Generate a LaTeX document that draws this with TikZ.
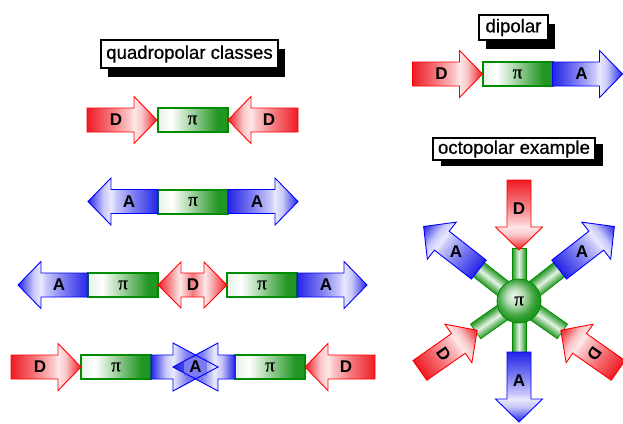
\documentclass[tikz,border=0pt]{standalone}
\usepackage{fontspec}
\setmainfont{Liberation Sans}
\newfontfamily\piface{Liberation Serif}[FakeBold=0.6]
\newfontfamily\capface{Liberation Sans}[FakeBold=0.7]
\usetikzlibrary{shadows}

% palette
\definecolor{Rd}{RGB}{238,28,36}
\definecolor{RdE}{RGB}{255,0,0}
\definecolor{Bl}{RGB}{36,36,232}
\definecolor{BlE}{RGB}{0,0,255}
\definecolor{Gr}{RGB}{34,150,34}
\definecolor{GrE}{RGB}{0,140,0}
\colorlet{RdM}{Rd!60!white}
\colorlet{RdL}{Rd!25!white}
\colorlet{RdW}{Rd!10!white}
\colorlet{BlM}{Bl!60!white}
\colorlet{BlL}{Bl!25!white}
\colorlet{BlW}{Bl!10!white}
\colorlet{GrL}{Gr!12!white}
\colorlet{GrM}{Gr!45!white}

% glossy fills along an arrow (tail on the left, tip on the right)
\pgfdeclarehorizontalshading{redarrow}{100bp}{color(0bp)=(Rd); color(25bp)=(Rd); color(42bp)=(RdM); color(55bp)=(RdL); color(58.5bp)=(RdW); color(64bp)=(RdL); color(75bp)=(Rd); color(100bp)=(Rd)}
\pgfdeclarehorizontalshading{bluearrow}{100bp}{color(0bp)=(Bl); color(25bp)=(Bl); color(42bp)=(BlM); color(55bp)=(BlL); color(58.5bp)=(BlW); color(64bp)=(BlL); color(75bp)=(Bl); color(100bp)=(Bl)}
\pgfdeclarehorizontalshading{reddouble}{100bp}{color(0bp)=(Rd); color(25bp)=(Rd); color(38bp)=(RdL); color(41bp)=(RdW); color(50bp)=(RdM); color(59bp)=(RdW); color(62bp)=(RdL); color(75bp)=(Rd); color(100bp)=(Rd)}
\pgfdeclarehorizontalshading{blueshort}{100bp}{color(0bp)=(Bl); color(25bp)=(Bl); color(36bp)=(BlL); color(41.5bp)=(BlW); color(52bp)=(BlM); color(75bp)=(Bl); color(100bp)=(Bl)}
\pgfdeclarehorizontalshading{pishade}{100bp}{color(0bp)=(GrL); color(25bp)=(GrL); color(35bp)=(white); color(50bp)=(GrM); color(68bp)=(Gr); color(100bp)=(Gr)}
\pgfdeclareradialshading{sphereshade}{\pgfpoint{-6bp}{6bp}}{color(0bp)=(Gr!6!white); color(9bp)=(Gr!30!white); color(20bp)=(Gr!85!white); color(25bp)=(Gr); color(50bp)=(Gr)}

\tikzset{
  arrowedge/.style={line width=0.9pt, line join=miter},
  letter/.style={font=\fontsize{17}{17}\selectfont\bfseries, inner sep=0pt},
  pibox/.style={shade, shading=pishade, draw=GrE, line width=2pt,
    minimum width=70pt, minimum height=24pt, inner sep=0pt,
    font=\piface\fontsize{19}{19}\selectfont},
  caption/.style={draw=black, fill=white, line width=1.4pt, inner sep=0pt,
    font=\capface\fontsize{18.6}{20}\selectfont},
  stub/.style={top color=Gr, bottom color=Gr, middle color=GrL, draw=GrE, line width=0.6pt},
}

% block arrow: #1 canvas placement, #2 shading, #3 edge colour,
% #4 letter, #5 letter rotation (relative), #6 letter node name
\newcommand\garrow[6]{%
  \begin{scope}[transform canvas={#1}]
    \path[shade, shading=#2, draw=#3, arrowedge]
      (0,-12) -- (47,-12) -- (47,-23.5) -- (70,0) -- (47,23.5) -- (47,12) -- (0,12) -- cycle;
    \node[letter, rotate=#5] (#6) at (29,0) {#4};
  \end{scope}}

\begin{document}
\begin{tikzpicture}[x=1pt, y=-1pt]
\useasboundingbox (0,0) rectangle (623,423);

% ---------- captions ----------
\node[caption, minimum width=177pt, minimum height=28pt,
  drop shadow={shadow xshift=7pt, shadow yshift=-9pt, fill=black, opacity=1}]
  (quad) at (189.5,54) {quadropolar classes};
\node[caption, minimum width=69pt, minimum height=25pt,
  drop shadow={shadow xshift=7pt, shadow yshift=-9pt, fill=black, opacity=1}]
  (dip) at (513.5,27.5) {dipolar};
\node[caption, minimum width=162pt, minimum height=22pt,
  drop shadow={shadow xshift=8pt, shadow yshift=-6pt, fill=black, opacity=1}]
  (octo) at (514,149) {octopolar example};

% ---------- dipolar: D -> pi -> A ----------
\node[pibox] (dpi) at (517.5,74) {π};
\garrow{shift={(412.5,74)}}{redarrow}{RdE}{D}{0}{dD}
\garrow{shift={(552.5,74)}}{bluearrow}{BlE}{A}{0}{dA}

% ---------- quadrupolar row 1: D -> pi <- D ----------
\node[pibox] (q1pi) at (192.5,120) {π};
\garrow{shift={(87,120)}}{redarrow}{RdE}{D}{0}{q1D1}
\garrow{shift={(298,120)}, rotate=180}{redarrow}{RdE}{D}{-180}{q1D2}

% ---------- row 2: A <- pi -> A ----------
\node[pibox] (q2pi) at (193,201.5) {π};
\garrow{shift={(158,201.5)}, rotate=180}{bluearrow}{BlE}{A}{-180}{q2A1}
\garrow{shift={(228,201.5)}}{bluearrow}{BlE}{A}{0}{q2A2}

% ---------- row 3: A <- pi <- D -> pi -> A ----------
\node[pibox] (q3pi1) at (123,285) {π};
\node[pibox] (q3pi2) at (262,285) {π};
\garrow{shift={(88,285)}, rotate=180}{bluearrow}{BlE}{A}{-180}{q3A1}
\garrow{shift={(297,285)}}{bluearrow}{BlE}{A}{0}{q3A2}
\path[shade, shading=reddouble, draw=RdE, arrowedge]
  (158,285) -- (181,262) -- (181,273) -- (204,273) -- (204,262) -- (227,285)
  -- (204,308) -- (204,297) -- (181,297) -- (181,308) -- cycle;
\node[letter] (q3D) at (193,285) {D};

% ---------- row 4: D -> pi -> A <- pi <- D ----------
\node[pibox] (q4pi1) at (116,367) {π};
\node[pibox] (q4pi2) at (270,367) {π};
\garrow{shift={(11,367)}}{redarrow}{RdE}{D}{0}{q4D1}
\garrow{shift={(375,367)}, rotate=180}{redarrow}{RdE}{D}{-180}{q4D2}
\path[shade, shading=blueshort]
  (151,355) -- (173,355) -- (173,343) -- (218,367) -- (173,391) -- (173,379) -- (151,379) -- cycle;
\path[shade, shading=blueshort, shading angle=180]
  (235,355) -- (218,355) -- (218,343) -- (173,367) -- (218,391) -- (218,379) -- (235,379) -- cycle;
\fill[BlM] (184,358) rectangle (207,376);
\draw[BlE, arrowedge]
  (151,355) -- (173,355) -- (173,343) -- (218,367) -- (173,391) -- (173,379) -- (151,379) -- cycle;
\draw[BlE, arrowedge]
  (235,355) -- (218,355) -- (218,343) -- (173,367) -- (218,391) -- (218,379) -- (235,379) -- cycle;
\node[letter] (q4A) at (195.5,367) {A};

% ---------- octopolar star ----------
\foreach \ang/\hw in {90/7,38/9,-35/9,-90/7,-145/9,142/9}{
  \begin{scope}[transform canvas={shift={(519,301)}, rotate=\ang}]
    \path[stub] (0,-\hw) rectangle (53,\hw);
  \end{scope}}
\node[circle, minimum size=44pt, inner sep=0pt, shade, shading=sphereshade,
  draw=GrE, line width=0.8pt, font=\piface\fontsize{19}{19}\selectfont]
  (core) at (519,301) {π};

\garrow{shift={(519,301)}, rotate=90, xshift=121pt, rotate=180}{redarrow}{RdE}{D}{-270}{oD1}
\garrow{shift={(519,301)}, rotate=-35, xshift=121pt, rotate=180}{redarrow}{RdE}{D}{-270}{oD2}
\garrow{shift={(519,301)}, rotate=-145, xshift=121pt, rotate=180}{redarrow}{RdE}{D}{-90}{oD3}
\garrow{shift={(519,301)}, rotate=-90, xshift=51pt}{bluearrow}{BlE}{A}{90}{oA1}
\garrow{shift={(519,301)}, rotate=38, xshift=51pt}{bluearrow}{BlE}{A}{-38}{oA2}
\garrow{shift={(519,301)}, rotate=142, xshift=51pt}{bluearrow}{BlE}{A}{-142}{oA3}
\end{tikzpicture}
\end{document}
